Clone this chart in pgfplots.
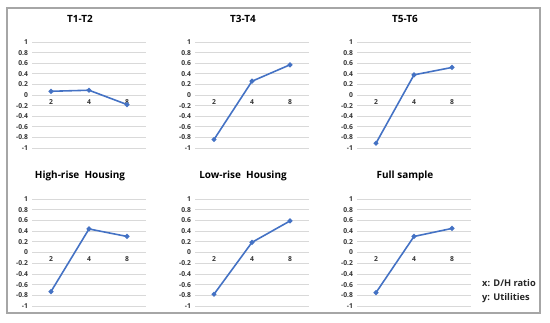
\documentclass[border=0pt]{standalone}
\usepackage{pgfplots}
\pgfplotsset{compat=1.18}
\usepackage{fontspec}
\setmainfont{Open Sans}
\definecolor{lineblue}{HTML}{4472C4}
\definecolor{gridgray}{HTML}{D9D9D9}
\definecolor{framegray}{HTML}{A6A6A6}
\pgfplotsset{panel/.style={
  scale only axis, width=114bp, height=106bp,
  xmin=0.5, xmax=3.5, ymin=-1, ymax=1,
  axis x line*=middle, axis y line*=left,
  x axis line style={draw=gridgray, line width=0.6pt},
  y axis line style={draw=none},
  xtick={1,2,3}, xticklabels={2,4,8},
  ytick={-1,-0.8,-0.6,-0.4,-0.2,0,0.2,0.4,0.6,0.8,1},
  yticklabels={-1,-0.8,-0.6,-0.4,-0.2,0,0.2,0.4,0.6,0.8,1},
  xtick style={draw=none}, ytick style={draw=none},
  ymajorgrids, major grid style={draw=gridgray, line width=0.6pt},
  tick label style={font=\bfseries\fontsize{6.8}{7.5}\selectfont, text=black!80},
  yticklabel style={xshift=-0.5bp},
  xticklabel style={yshift=-1bp},
  title style={at={(0.5,1)}, anchor=center, yshift=17bp, xshift=-9bp, font=\bfseries\fontsize{10}{12}\selectfont},
  /pgf/number format/assume math mode=true,
  clip=false,
}}
\begin{document}
\begin{tikzpicture}
\path[use as bounding box] (0,0) rectangle (550bp,323bp);
\draw[framegray, line width=1.5pt] (7bp,10bp) rectangle (540bp,315bp);
% top row
\begin{axis}[panel, at={(32bp,175bp)}, anchor=south west, title={T1-T2}]
\addplot[lineblue, line width=1.6pt, mark=*, mark size=1.6pt] coordinates {(1,0.07) (2,0.09) (3,-0.18)};
\end{axis}
\begin{axis}[panel, at={(195bp,175bp)}, anchor=south west, title={T3-T4}]
\addplot[lineblue, line width=1.6pt, mark=*, mark size=1.6pt] coordinates {(1,-0.84) (2,0.26) (3,0.57)};
\end{axis}
\begin{axis}[panel, at={(357bp,175bp)}, anchor=south west, title={T5-T6}]
\addplot[lineblue, line width=1.6pt, mark=*, mark size=1.6pt] coordinates {(1,-0.91) (2,0.38) (3,0.52)};
\end{axis}
% bottom row
\begin{axis}[panel, height=107bp, at={(32bp,17bp)}, anchor=south west, title={High-rise\ \ Housing}]
\addplot[lineblue, line width=1.6pt, mark=*, mark size=1.6pt] coordinates {(1,-0.73) (2,0.44) (3,0.30)};
\end{axis}
\begin{axis}[panel, height=107bp, at={(195bp,17bp)}, anchor=south west, title={Low-rise\ \ Housing}]
\addplot[lineblue, line width=1.6pt, mark=*, mark size=1.6pt] coordinates {(1,-0.78) (2,0.19) (3,0.59)};
\end{axis}
\begin{axis}[panel, height=107bp, at={(357bp,17bp)}, anchor=south west, title={Full sample}]
\addplot[lineblue, line width=1.6pt, mark=*, mark size=1.6pt] coordinates {(1,-0.75) (2,0.30) (3,0.45)};
\end{axis}
\node[anchor=west, font=\bfseries\fontsize{9.3}{11}\selectfont, inner sep=0pt, text=black!85] at (482bp,40bp) {x: D/H ratio};
\node[anchor=west, font=\bfseries\fontsize{9.3}{11}\selectfont, inner sep=0pt, text=black!85] at (482bp,25bp) {y: Utilities};
\end{tikzpicture}
\end{document}
